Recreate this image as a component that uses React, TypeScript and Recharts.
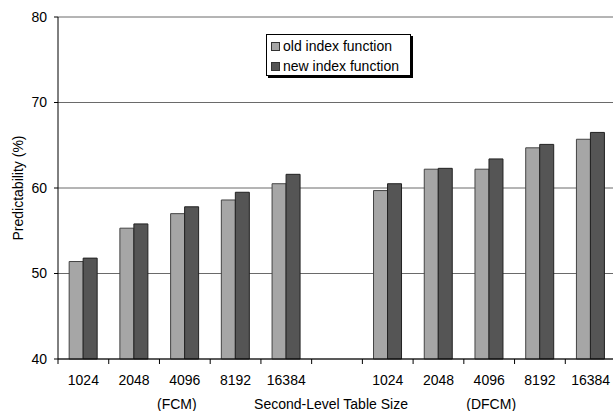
import React from 'react';
import { BarChart, Bar, XAxis, YAxis, CartesianGrid, Legend } from 'recharts';

const sizes = ['1024', '2048', '4096', '8192', '16384', '', '1024', '2048', '4096', '8192', '16384'];
const groupLabels = ['', '', '(FCM)', '', '', 'Second-Level Table Size', '', '', '(DFCM)', '', ''];
const oldIndex = [51.4, 55.3, 57.0, 58.6, 60.5, null, 59.7, 62.2, 62.2, 64.7, 65.7];
const newIndex = [51.8, 55.8, 57.8, 59.5, 61.6, null, 60.5, 62.3, 63.4, 65.1, 66.5];
const yTicks = [40, 50, 60, 70, 80];

const data = sizes.map((s, i) => ({
  key: i,
  size: s,
  group: groupLabels[i],
  oldIdx: oldIndex[i],
  newIdx: newIndex[i],
}));

const font = 'Liberation Sans, Arial, sans-serif';

// two rows under each category: table size, then the group / axis title
const SizeTick = (props: any) => {
  const { x, y, payload } = props;
  const i = payload.value as number;
  const g = groupLabels[i];
  const shift = g === '(FCM)' ? -8 : g === '(DFCM)' ? 2 : -6;
  return (
    <g>
      <text x={x} y={y} dy="0.71em" textAnchor="middle" fontSize={14} fill="#000" fontFamily={font}>
        {sizes[i]}
      </text>
      {g && (
        <text x={x + shift} y={y + 24} dy="0.71em" textAnchor="middle" fontSize={14} fill="#000" fontFamily={font}>
          {g}
        </text>
      )}
    </g>
  );
};

const LegendBox = () => (
  <div
    style={{
      border: '1px solid #000',
      boxShadow: '2px 2px 0 #000',
      background: '#fff',
      width: 139,
      height: 39,
      fontFamily: font,
      fontSize: 14,
      lineHeight: '20px',
      padding: '1px 0 0 4px',
      boxSizing: 'content-box',
    }}
  >
    {[
      { name: 'old index function', color: '#a6a6a6' },
      { name: 'new index function', color: '#555555' },
    ].map((e) => (
      <div key={e.name} style={{ display: 'flex', alignItems: 'center', height: 20, whiteSpace: 'nowrap' }}>
        <span
          style={{
            display: 'inline-block',
            width: 7,
            height: 7,
            background: e.color,
            border: '1px solid #333',
            marginRight: 3,
          }}
        />
        <span>{e.name}</span>
      </div>
    ))}
  </div>
);

export default function App() {
  return (
    <div style={{ position: 'absolute', top: 0, left: 0, width: 613, height: 411, overflow: 'hidden', background: '#fff' }}>
      <BarChart
        width={620}
        height={411}
        data={data}
        margin={{ top: 17, right: 4, bottom: 0, left: 0 }}
        barCategoryGap="22%"
        barGap={0}
        style={{ overflow: 'visible' }}
      >
        <CartesianGrid vertical={false} stroke="#6a6a6a" strokeWidth={1} />
        <XAxis
          dataKey="key"
          interval={0}
          tickSize={5}
          tickMargin={11}
          axisLine={{ stroke: '#000' }}
          tickLine={{ stroke: '#000', transform: 'translate(-25.35, 0)' }}
          tick={SizeTick}
          height={52}
        />
        <YAxis
          domain={[40, 80]}
          ticks={yTicks}
          width={58}
          tickSize={4}
          tickMargin={7}
          axisLine={{ stroke: '#000' }}
          tickLine={{ stroke: '#000' }}
          tick={{ fontSize: 14, fill: '#000', fontFamily: font }}
          label={{
            value: 'Predictability (%)',
            angle: -90,
            position: 'center',
            dx: -11,
            style: { fontSize: 14, fill: '#000', fontFamily: font, textAnchor: 'middle' },
          }}
        />
        <Legend
          layout="vertical"
          align="center"
          verticalAlign="middle"
          content={() => <LegendBox />}
          wrapperStyle={{ top: 34, left: 266, width: 'auto' }}
        />
        <Bar dataKey="oldIdx" name="old index function" fill="#a6a6a6" stroke="#444" strokeWidth={1} isAnimationActive={false} />
        <Bar dataKey="newIdx" name="new index function" fill="#555555" stroke="#222" strokeWidth={1} isAnimationActive={false} />
      </BarChart>
    </div>
  );
}
